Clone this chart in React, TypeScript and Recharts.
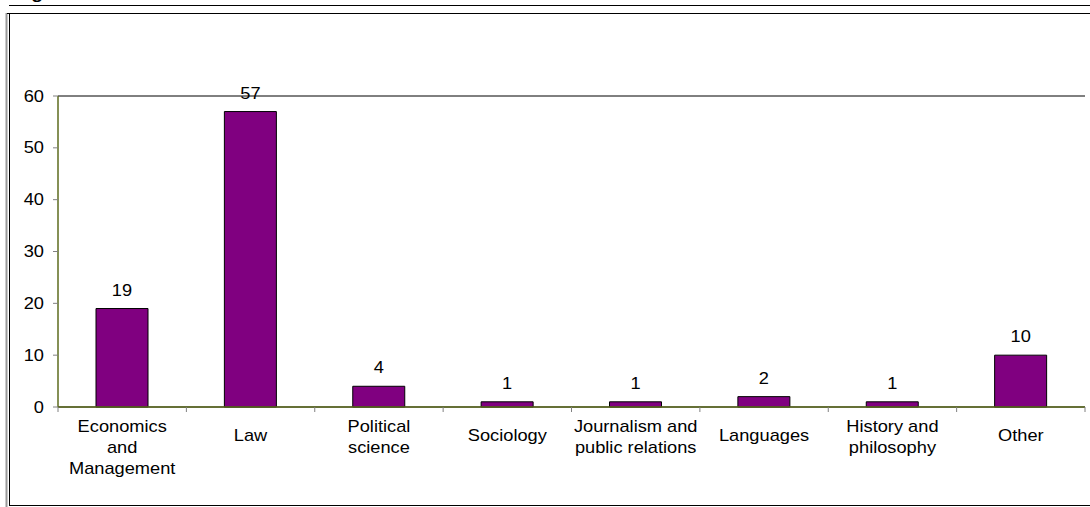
import React from "react";
import { BarChart, Bar, XAxis, YAxis, CartesianGrid, LabelList } from "recharts";

const categories = [
  "Economics\nand\nManagement",
  "Law",
  "Political\nscience",
  "Sociology",
  "Journalism and\npublic relations",
  "Languages",
  "History and\nphilosophy",
  "Other",
];
const values = [19, 57, 4, 1, 1, 2, 1, 10];
const yTicks = [0, 10, 20, 30, 40, 50, 60];

const data = categories.map((c, i) => ({ category: c, value: values[i] }));

const FONT = "'Liberation Sans', Arial, Helvetica, sans-serif";
const SX = 1.14;
const FS = 16;

function XTick(props: any) {
  const { x, y, payload } = props;
  const lines = String(payload.value).split("\n");
  const half = payload && payload.offset ? payload.offset : 0;
  const start = lines.length === 1 ? 34 : 25;
  return (
    <g>
      <line x1={x - half} x2={x - half} y1={y} y2={y + 5} stroke="#808080" />
      {payload.index === categories.length - 1 && (
        <line x1={x + half} x2={x + half} y1={y} y2={y + 5} stroke="#808080" />
      )}
      <g transform={`translate(${x},${y}) scale(${SX},1)`}>
        <text x={0} y={start} textAnchor="middle" fontFamily={FONT} fontSize={FS} fill="#000">
          {lines.map((l, i) => (
            <tspan key={i} x={0} dy={i === 0 ? 0 : 21}>
              {l}
            </tspan>
          ))}
        </text>
      </g>
    </g>
  );
}

function YTick(props: any) {
  const { x, y, payload } = props;
  return (
    <g transform={`translate(${x},${y}) scale(${SX},1)`}>
      <text x={0} y={0} dy={5.5} textAnchor="end" fontFamily={FONT} fontSize={FS} fill="#000">
        {payload.value}
      </text>
    </g>
  );
}

function BarLabel(props: any) {
  const { x, y, width, value } = props;
  return (
    <g transform={`translate(${x + width / 2},${y - 13}) scale(${SX},1)`}>
      <text x={0} y={0} textAnchor="middle" fontFamily={FONT} fontSize={FS} fill="#000">
        {value}
      </text>
    </g>
  );
}

export default function App() {
  return (
    <div
      style={{
        position: "absolute",
        left: 0,
        top: 0,
        width: 1090,
        height: 507,
        overflow: "hidden",
        background: "#fff",
      }}
    >
      <svg style={{ position: "absolute", left: 0, top: 0 }} width={1090} height={507}>
        <g transform={`translate(14,-1) scale(${SX},1)`}>
          <text x={0} y={0} fontFamily={FONT} fontSize={17} fontWeight="bold" fill="#000">
            Figure
          </text>
        </g>
        <line x1={9} x2={1090} y1={5.5} y2={5.5} stroke="#000" />
        <line x1={6.5} x2={6.5} y1={13} y2={507} stroke="#999" strokeWidth={2} />
        <line x1={9.5} x2={9.5} y1={13} y2={506} stroke="#000" />
        <line x1={7} x2={1090} y1={13.5} y2={13.5} stroke="#000" />
        <line x1={9} x2={1090} y1={505.5} y2={505.5} stroke="#000" />
      </svg>
      <div style={{ position: "absolute", left: 0, top: 0 }}>
        <BarChart
          width={1090}
          height={507}
          data={data}
          margin={{ top: 96, right: 5, left: 0, bottom: 0 }}
        >
          <CartesianGrid vertical={false} stroke="#000" strokeWidth={1} />
          <XAxis
            xAxisId="cat"
            dataKey="category"
            height={100}
            interval={0}
            tickLine={false}
            tickSize={0}
            tickMargin={0}
            axisLine={{ stroke: "#5c6b1e", strokeWidth: 1.5 }}
            tick={<XTick />}
          />
          <XAxis
            xAxisId="top"
            dataKey="category"
            orientation="top"
            height={0}
            tick={false}
            tickLine={false}
            axisLine={{ stroke: "#99c31f", strokeWidth: 2 }}
          />
          <YAxis
            yAxisId="left"
            width={58}
            domain={[0, 60]}
            ticks={yTicks}
            interval={0}
            tickSize={5}
            tickMargin={9}
            tickLine={{ stroke: "#808080" }}
            axisLine={{ stroke: "#5c6b1e", strokeWidth: 1.5 }}
            tick={<YTick />}
          />
          <YAxis
            yAxisId="right"
            orientation="right"
            width={0}
            domain={[0, 60]}
            ticks={yTicks}
            tick={false}
            tickLine={false}
            axisLine={{ stroke: "#99c31f", strokeWidth: 2 }}
          />
          <Bar
            xAxisId="cat"
            yAxisId="left"
            dataKey="value"
            fill="#800080"
            stroke="#000"
            strokeWidth={1}
            barSize={52}
            isAnimationActive={false}
          >
            <LabelList dataKey="value" content={<BarLabel />} />
          </Bar>
        </BarChart>
      </div>
    </div>
  );
}
